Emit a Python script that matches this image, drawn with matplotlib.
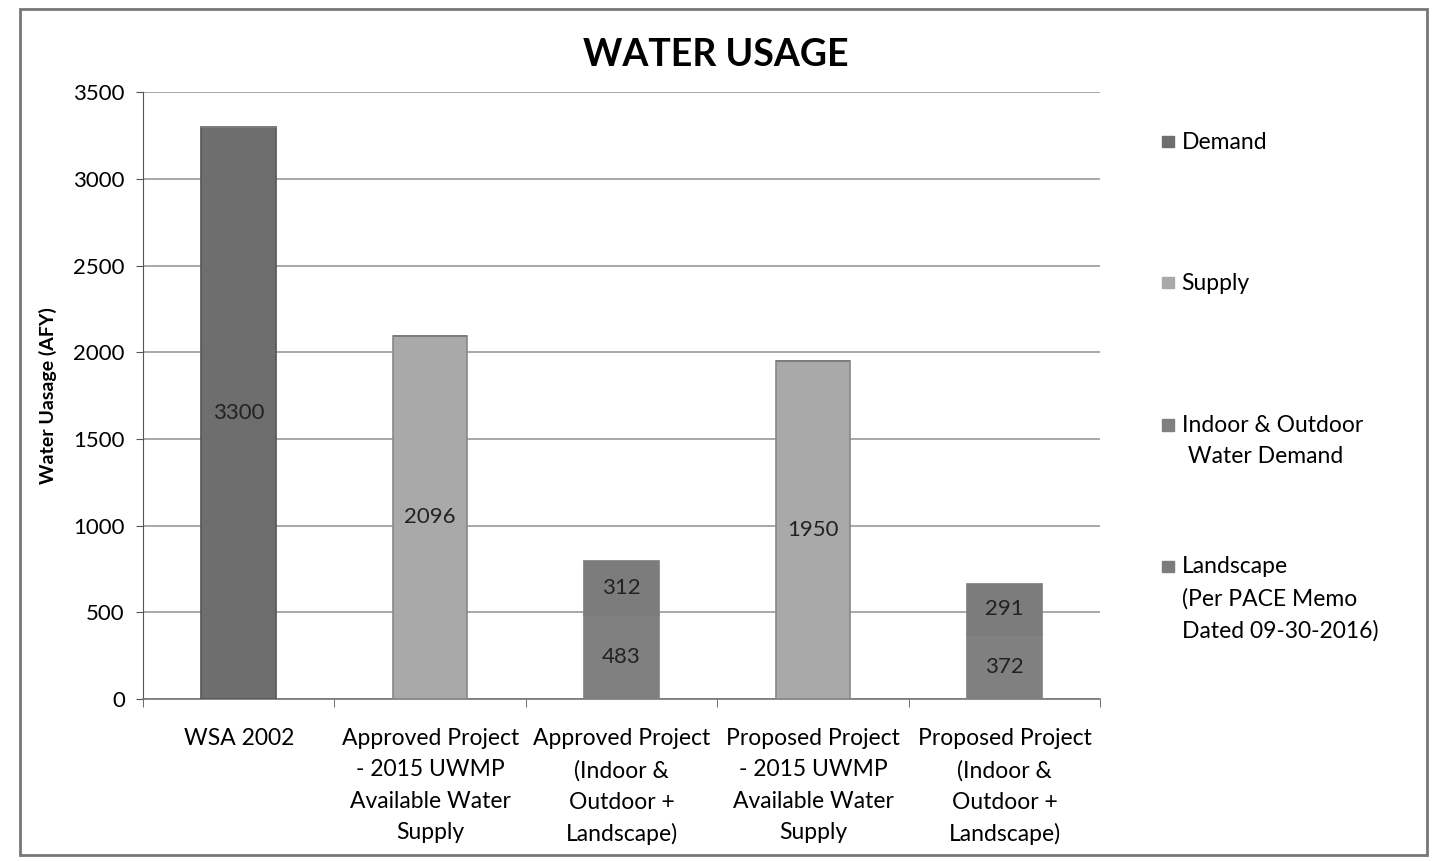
import matplotlib.pyplot as plt
from matplotlib.patches import Rectangle
import numpy as np

plt.rcParams['font.family'] = ['Lato', 'DejaVu Sans']

# datos del grafico
categorias = ["WSA 2002",
              "Approved Project\n- 2015 UWMP\nAvailable Water\nSupply",
              "Approved Project\n(Indoor &\nOutdoor +\nLandscape)",
              "Proposed Project\n- 2015 UWMP\nAvailable Water\nSupply",
              "Proposed Project\n(Indoor &\nOutdoor +\nLandscape)"]
demanda = [3300, 0, 0, 0, 0]
suministro = [0, 2096, 0, 1950, 0]
interior_exterior = [0, 0, 483, 0, 372]
paisaje = [0, 0, 312, 0, 291]
series_nombres = ["Demand", "Supply", "Indoor & Outdoor\n Water Demand",
                  "Landscape\n(Per PACE Memo\nDated 09-30-2016)"]
colores = ["#6e6e6e", "#a9a9a9", "#808080", "#7c7c7c"]
bordes = ["#555555", "#888888", "#808080", "#7c7c7c"]

fig = plt.figure(figsize=(14.34, 8.61), dpi=100)
ax = fig.add_axes([0.0997, 0.188, 0.6675, 0.705])

x = np.arange(len(categorias))
ancho = 0.39
fondo = np.zeros(len(categorias))
for valores, color, borde in zip([demanda, suministro, interior_exterior, paisaje], colores, bordes):
    valores = np.array(valores, dtype=float)
    barras = ax.bar(x, valores, ancho, bottom=fondo, color=color,
                    edgecolor=borde, linewidth=1.2, zorder=3)
    etiquetas = [f"{int(v)}" if v > 0 else "" for v in valores]
    ax.bar_label(barras, labels=etiquetas, label_type="center",
                 fontsize=16, color="#222222", zorder=4)
    fondo += valores

ax.set_xlim(-0.5, len(categorias) - 0.5)
ax.set_ylim(0, 3500)
ax.set_yticks(np.arange(0, 3501, 500))
ax.tick_params(axis="y", labelsize=16, length=5, color="#555555", pad=8)
ax.yaxis.grid(True, color="#9a9a9a", linewidth=1.2, zorder=0)
ax.set_xticks(x)
ax.set_xticklabels(categorias, fontsize=16.5, linespacing=1.6)
ax.tick_params(axis="x", length=0, pad=21)
ax.set_xticks(np.arange(-0.5, len(categorias), 1), minor=True)
ax.tick_params(axis="x", which="minor", length=6, color="#555555")
for lado in ["top", "right"]:
    ax.spines[lado].set_visible(False)
ax.spines["left"].set_color("#555555")
ax.spines["bottom"].set_color("#777777")
ax.spines["bottom"].set_linewidth(1.2)
ax.set_ylabel("Water Uasage (AFY)", fontsize=14, fontweight="bold", labelpad=12)

fig.text(0.499, 0.936, "WATER USAGE", ha="center", va="center",
         fontsize=27, fontweight="bold")

# leyenda manual
ys = [0.835, 0.671, 0.506, 0.342]
for nombre, color, y in zip(series_nombres, colores, ys):
    fig.patches.append(Rectangle((0.8105, y - 0.006), 0.0085, 0.013,
                                 transform=fig.transFigure, color=color))
    fig.text(0.824, y + 0.012, nombre, ha="left", va="top", fontsize=16.5,
             linespacing=1.6, multialignment="left")

# marco
fig.patches.append(Rectangle((0.014, 0.007), 0.981, 0.983, transform=fig.transFigure,
                             fill=False, edgecolor="#777777", linewidth=2))

fig.savefig("out.png", dpi=100)
